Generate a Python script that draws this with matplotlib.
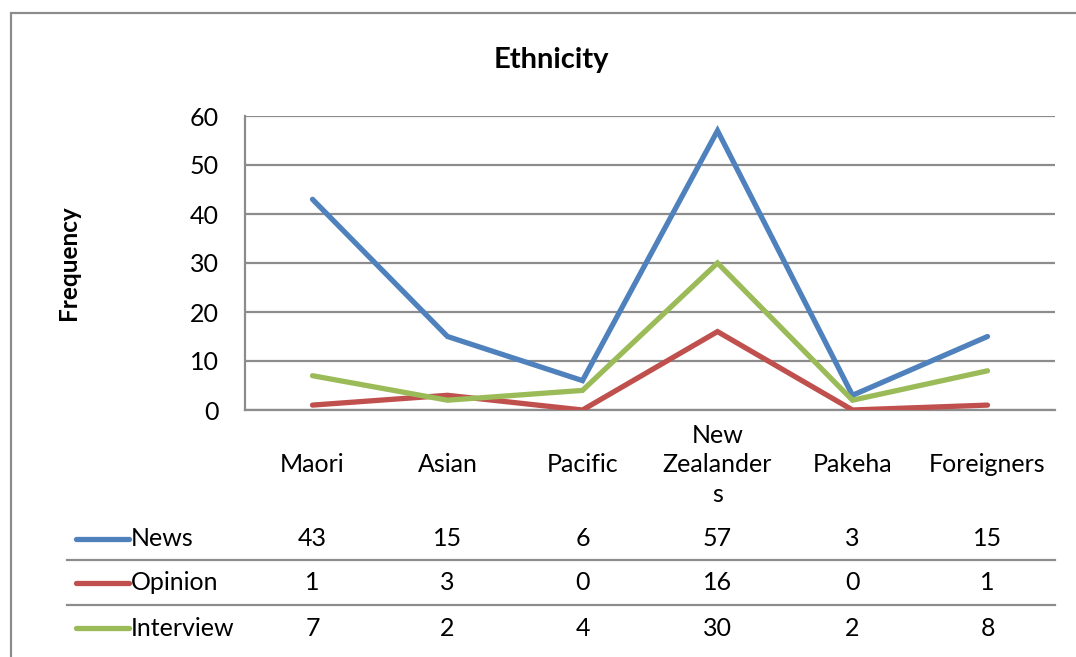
import matplotlib
matplotlib.use("Agg")
import matplotlib.pyplot as plt
from matplotlib.transforms import blended_transform_factory
from matplotlib.patches import Rectangle
from matplotlib.lines import Line2D

categories = ["Maori", "Asian", "Pacific", "New\nZealander\ns", "Pakeha", "Foreigners"]
series_names = ["News", "Opinion", "Interview"]
news = [43, 15, 6, 57, 3, 15]
opinion = [1, 3, 0, 16, 0, 1]
interview = [7, 2, 4, 30, 2, 8]
y_ticks = [0, 10, 20, 30, 40, 50, 60]

series_values = [news, opinion, interview]
colors = ["#4F81BD", "#C0504D", "#9BBB59"]
grid_color = "#8C8C8C"
font = "Lato"
fs = 18

W, H = 1076, 657
fig = plt.figure(figsize=(W / 100, H / 100), dpi=100)
plt.rcParams["font.family"] = [font, "DejaVu Sans"]


def fy(py):
    return 1 - py / H


def fx(px):
    return px / W


# Chart area frame (extends past the right and bottom edges)
fig.patches.append(Rectangle((fx(11), fy(700)), fx(1200) - fx(11), fy(13) - fy(700),
                             transform=fig.transFigure, fill=False,
                             edgecolor="#8C8C8C", lw=1.6))

left, right, top, bottom = 245, 1055, 116, 410
ax = fig.add_axes([fx(left), fy(bottom), fx(right) - fx(left), fy(top) - fy(bottom)])

n = len(categories)
x = list(range(n))
for vals, c in zip(series_values, colors):
    ax.plot(x, vals, color=c, lw=3.8, solid_capstyle="round", solid_joinstyle="miter", zorder=3)

ax.set_xlim(-0.5, n - 0.5)
ax.set_ylim(0, 60)
ax.set_yticks(y_ticks)
ax.set_yticklabels([str(t) for t in y_ticks], fontsize=fs)
ax.tick_params(axis="y", length=0, pad=26 * 0.72)
ax.set_xticks([])
for t in y_ticks:
    ax.axhline(t, color=grid_color, lw=1.6, zorder=1)
for s in ["top", "right"]:
    ax.spines[s].set_visible(False)
ax.spines["left"].set_color(grid_color)
ax.spines["left"].set_linewidth(1.6)
ax.spines["bottom"].set_color(grid_color)
ax.spines["bottom"].set_linewidth(1.6)

fig.text(fx(551), fy(60), "Ethnicity", ha="center", va="center",
         fontsize=21, fontweight="bold")
fig.text(fx(68), fy(263), "Frequency", ha="center", va="center",
         fontsize=17.5, fontweight="bold", rotation=90)

trans = blended_transform_factory(ax.transData, fig.transFigure)

# Category labels under the axis
for i, cat in enumerate(categories):
    ax.text(i, fy(465), cat, transform=trans, ha="center", va="center",
            fontsize=fs, linespacing=1.35, clip_on=False)

# Data table with legend keys
row_y = [539, 583, 628]
for name, vals, c, ry in zip(series_names, series_values, colors, row_y):
    fig.add_artist(Line2D([fx(76), fx(129)], [fy(ry), fy(ry)], transform=fig.transFigure,
                          color=c, lw=3.8, solid_capstyle="round"))
    fig.text(fx(131), fy(ry), name, ha="left", va="center", fontsize=fs)
    for i, v in enumerate(vals):
        ax.text(i, fy(ry), str(v), transform=trans, ha="center", va="center",
                fontsize=fs, clip_on=False)

for ly in [560, 605]:
    fig.add_artist(Line2D([fx(67), fx(right)], [fy(ly), fy(ly)], transform=fig.transFigure,
                          color=grid_color, lw=1.6))

fig.savefig("out.png", dpi=100)
